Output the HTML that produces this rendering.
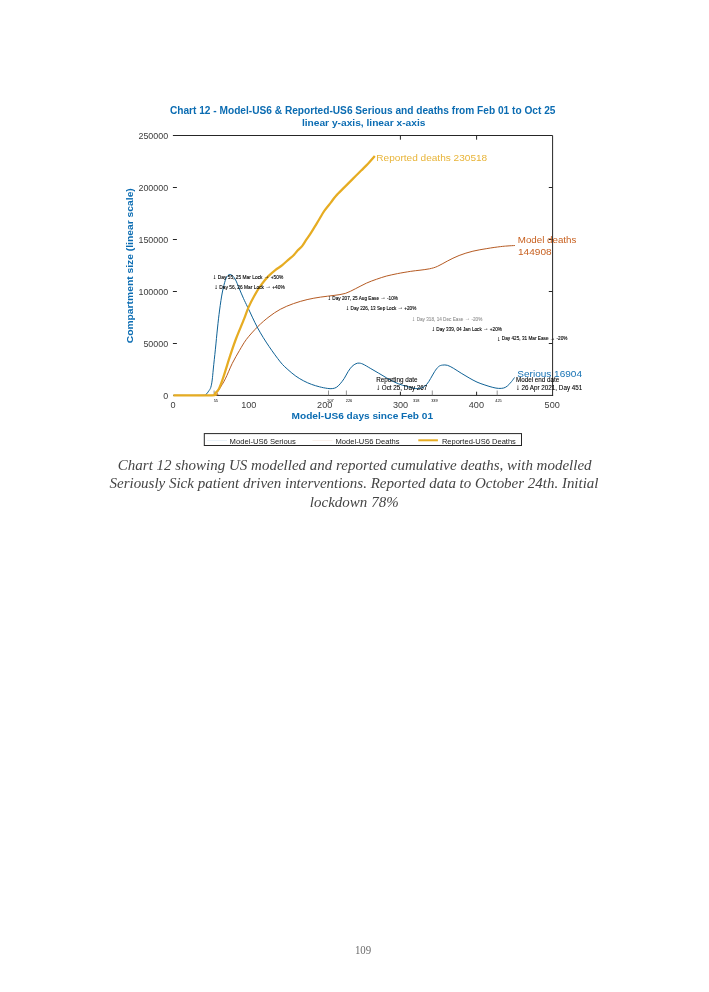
<!DOCTYPE html>
<html lang="en"><head><meta charset="utf-8"><title>Chart 12</title>
<style>
html,body{margin:0;padding:0;background:#fff;}
body{width:709px;height:992px;position:relative;overflow:hidden;}
</style></head><body>
<svg width="709" height="992" viewBox="0 0 709 992" style="position:absolute;left:0;top:0">
<g font-family="'Liberation Sans', Arial, Helvetica, sans-serif">
<text x="169.9" y="113.7" font-weight="bold" font-size="10" textLength="385.6" lengthAdjust="spacingAndGlyphs" fill="#0B6CB2" id="t1">Chart 12 - Model-US6 &amp; Reported-US6 Serious and deaths from Feb 01 to Oct 25</text>
<text x="301.9" y="125.5" font-weight="bold" font-size="9.9" textLength="123.5" lengthAdjust="spacingAndGlyphs" fill="#0B6CB2" id="t2">linear y-axis, linear x-axis</text>
<g stroke="#262626" stroke-width="1" fill="none" shape-rendering="auto">
<path d="M172.9 135.5 H552.6 V395.9"/>
<path d="M213.5 395.4 H553.1"/>
<path d="M172.9 343.5 H176.9"/>
<path d="M548.8 343.5 H552.6"/>
<path d="M172.9 291.5 H176.9"/>
<path d="M548.8 291.5 H552.6"/>
<path d="M172.9 239.5 H176.9"/>
<path d="M548.8 239.5 H552.6"/>
<path d="M172.9 187.5 H176.9"/>
<path d="M548.8 187.5 H552.6"/>
<path d="M400.4 135.5 V139.7"/>
<path d="M400.4 395.5 V391.7"/>
<path d="M476.6 135.5 V139.7"/>
<path d="M476.6 395.5 V391.7"/>
</g>
<g stroke="#666" stroke-width="0.7" fill="none">
<path d="M214.1 395.5 V390.5"/>
<path d="M328.5 395.5 V390.5"/>
<path d="M346.4 395.5 V390.5"/>
<path d="M432.3 395.5 V390.5"/>
<path d="M497.2 395.5 V390.5"/>
</g>
<g font-size="8.9" fill="#3c3c3c">
<text x="168.1" y="399.2" text-anchor="end">0</text>
<text x="168.1" y="347.2" text-anchor="end">50000</text>
<text x="168.1" y="295.2" text-anchor="end">100000</text>
<text x="168.1" y="243.2" text-anchor="end">150000</text>
<text x="168.1" y="191.2" text-anchor="end">200000</text>
<text x="168.1" y="139.2" text-anchor="end">250000</text>
<text x="173.0" y="408.3" font-size="9.1" text-anchor="middle">0</text>
<text x="248.8" y="408.3" font-size="9.1" text-anchor="middle">100</text>
<text x="324.7" y="408.3" font-size="9.1" text-anchor="middle">200</text>
<text x="400.5" y="408.3" font-size="9.1" text-anchor="middle">300</text>
<text x="476.4" y="408.3" font-size="9.1" text-anchor="middle">400</text>
<text x="552.2" y="408.3" font-size="9.1" text-anchor="middle">500</text>
</g>
<g font-size="3.9" fill="#000" text-anchor="middle">
<text x="215.8" y="401.6">55</text>
<text x="330.5" y="401.6">207</text>
<text x="349" y="401.6">226</text>
<text x="416.2" y="401.6">318</text>
<text x="434.4" y="401.6">339</text>
<text x="498.5" y="401.6">425</text>
</g>
<text x="291.6" y="418.9" font-weight="bold" font-size="9.3" textLength="141.5" lengthAdjust="spacingAndGlyphs" fill="#0B6CB2" id="xl">Model-US6 days since Feb 01</text>
<text transform="translate(133.4 343.3) rotate(-90)" font-weight="bold" font-size="9.4" textLength="155.1" lengthAdjust="spacingAndGlyphs" fill="#0B6CB2" id="yl">Compartment size (linear scale)</text>
<path d="M173.4 395.4C180.2 395.4 206.7 395.8 214.0 395.3C221.3 394.8 216.1 393.6 217.0 392.5C217.9 391.4 218.2 391.0 219.6 388.7C221.0 386.4 223.2 383.1 225.3 378.9C227.4 374.7 230.0 368.0 232.3 363.3C234.7 358.6 237.1 354.6 239.4 350.6C241.8 346.6 243.4 343.4 246.4 339.4C249.4 335.4 253.9 330.5 257.7 326.7C261.5 322.9 265.2 319.7 269.0 316.8C272.8 313.9 276.2 311.5 280.3 309.3C284.4 307.1 289.0 305.2 293.5 303.6C298.0 302.0 302.6 300.7 307.1 299.6C311.6 298.5 316.1 297.8 320.6 297.1C325.1 296.4 330.0 296.0 334.1 295.4C338.2 294.8 341.9 294.5 345.4 293.4C348.9 292.3 351.8 290.5 355.3 288.8C358.8 287.1 363.0 284.7 366.5 283.1C370.0 281.5 373.1 280.5 376.4 279.3C379.7 278.1 382.8 277.1 386.3 276.1C389.8 275.2 393.6 274.4 397.6 273.6C401.6 272.8 406.6 272.0 410.3 271.4C414.0 270.8 416.8 270.6 420.0 270.2C423.2 269.8 426.6 269.4 429.5 268.8C432.4 268.2 434.4 267.7 437.4 266.4C440.4 265.1 443.7 262.9 447.3 261.1C450.9 259.3 454.8 257.1 459.1 255.5C463.4 253.8 468.3 252.3 472.9 251.2C477.5 250.0 482.2 249.4 486.8 248.6C491.4 247.8 497.2 247.0 500.6 246.6C504.0 246.2 504.6 246.2 507.0 246.0C509.4 245.8 513.6 245.6 514.9 245.5" fill="none" stroke="#B55A22" stroke-width="1" stroke-linejoin="round"/>
<path d="M173.4 395.4C178.3 395.4 197.5 395.5 203.0 395.3C208.5 395.1 205.3 394.9 206.2 394.2C207.1 393.5 207.8 392.3 208.6 391.2C209.4 390.1 210.2 389.2 210.8 387.3C211.4 385.4 211.8 383.1 212.2 380.0C212.6 376.9 212.8 374.1 213.3 369.0C213.8 363.9 214.7 356.0 215.4 349.2C216.1 342.4 216.8 334.5 217.5 328.0C218.2 321.5 218.8 316.0 219.6 310.0C220.4 304.0 221.4 296.9 222.4 292.0C223.4 287.1 224.4 283.1 225.3 280.4C226.2 277.6 227.1 276.4 228.0 275.5C228.9 274.6 229.7 274.1 230.9 274.7C232.1 275.3 233.7 276.6 235.1 279.0C236.5 281.4 238.0 285.6 239.4 288.9C240.8 292.2 242.2 295.6 243.6 298.7C245.0 301.8 245.5 302.6 247.8 307.5C250.2 312.4 254.2 321.5 257.7 328.0C261.2 334.5 265.2 340.8 269.0 346.4C272.8 352.0 277.2 358.0 280.3 361.9C283.4 365.8 285.3 367.2 287.9 369.6C290.5 372.0 293.2 374.2 295.8 376.1C298.4 378.0 301.1 379.5 303.7 380.9C306.3 382.3 309.0 383.4 311.6 384.4C314.2 385.4 316.9 386.1 319.5 386.8C322.1 387.5 325.3 388.1 327.4 388.4C329.5 388.7 330.8 388.8 332.3 388.6C333.8 388.4 335.0 388.2 336.3 387.4C337.6 386.6 338.9 385.3 340.2 383.8C341.5 382.3 342.9 380.5 344.2 378.5C345.5 376.5 346.8 373.6 348.1 371.6C349.4 369.6 350.8 367.6 352.1 366.3C353.4 365.0 354.9 364.2 356.0 363.7C357.1 363.2 357.9 363.0 359.0 363.1C360.1 363.2 360.9 363.2 362.9 364.1C364.9 365.0 368.2 367.1 370.8 368.6C373.4 370.1 376.1 371.6 378.7 373.2C381.3 374.8 384.0 376.4 386.6 377.9C389.2 379.4 391.9 380.9 394.5 382.1C397.1 383.3 399.8 384.3 402.4 385.2C405.0 386.1 408.1 386.8 410.3 387.4C412.5 388.0 413.9 388.5 415.8 388.6C417.7 388.7 419.9 388.7 421.7 388.0C423.5 387.3 425.2 386.0 426.7 384.4C428.2 382.8 429.3 380.6 430.6 378.5C431.9 376.4 433.3 373.6 434.6 371.6C435.9 369.6 437.2 367.8 438.5 366.7C439.8 365.6 441.0 365.3 442.5 365.1C444.0 364.9 445.6 364.8 447.4 365.3C449.2 365.8 451.0 366.9 453.3 368.2C455.6 369.5 458.6 371.6 461.2 373.2C463.8 374.8 466.5 376.4 469.1 377.9C471.7 379.4 474.4 380.9 477.0 382.1C479.6 383.3 482.3 384.1 484.9 385.0C487.5 385.9 490.5 386.8 492.8 387.4C495.1 388.0 496.9 388.3 498.7 388.4C500.5 388.5 502.2 388.4 503.7 388.0C505.2 387.6 506.3 386.9 507.6 385.8C508.9 384.7 510.5 382.9 511.6 381.5C512.8 380.1 514.0 378.2 514.5 377.5" fill="none" stroke="#0F6296" stroke-width="1" stroke-linejoin="round"/>
<path d="M173.4 395.3C179.8 395.3 205.0 395.7 212.0 395.3C219.0 394.9 214.1 394.1 215.3 393.0C216.5 391.9 217.7 391.3 219.0 388.7C220.3 386.1 221.4 383.0 223.3 377.4C225.2 371.8 228.2 361.5 230.4 354.9C232.6 348.3 234.0 344.0 236.3 338.0C238.6 332.0 242.2 323.8 244.2 318.7C246.2 313.6 246.8 311.1 248.5 307.4C250.2 303.6 252.0 299.9 254.1 296.2C256.2 292.4 258.8 288.2 261.2 284.9C263.6 281.6 265.8 278.9 268.2 276.4C270.6 273.9 272.9 272.0 275.3 270.1C277.7 268.2 280.0 267.0 282.3 265.1C284.6 263.2 287.5 260.4 289.4 258.8C291.3 257.2 292.2 256.7 293.6 255.3C295.0 253.9 296.4 251.8 297.8 250.3C299.2 248.8 300.7 247.9 302.1 246.1C303.5 244.3 304.9 241.8 306.3 239.7C307.7 237.6 309.1 235.8 310.5 233.6C311.9 231.4 313.3 229.1 314.8 226.6C316.3 224.1 318.1 221.2 319.7 218.5C321.3 215.8 322.6 213.2 324.5 210.6C326.4 207.9 328.9 205.0 330.8 202.6C332.7 200.2 333.6 198.4 335.9 195.9C338.1 193.4 341.5 190.2 344.3 187.4C347.1 184.6 350.0 181.7 352.8 178.9C355.6 176.1 358.7 173.0 361.2 170.5C363.7 168.0 365.7 166.1 368.0 163.7C370.3 161.3 373.7 157.4 374.8 156.1" fill="none" stroke="#E6AC22" stroke-width="2.25" stroke-linejoin="round"/>
<text x="376.3" y="160.9" font-size="9.6" textLength="110.9" lengthAdjust="spacingAndGlyphs" fill="#E8B438" id="lr">Reported deaths 230518</text>
<text x="517.8" y="242.8" font-size="9" textLength="58.6" lengthAdjust="spacingAndGlyphs" fill="#C8601F" id="lm">Model deaths</text>
<text x="518" y="254.9" font-size="9" textLength="33.6" lengthAdjust="spacingAndGlyphs" fill="#C8601F">144908</text>
<text x="517.3" y="376.6" font-size="9.8" textLength="64.7" lengthAdjust="spacingAndGlyphs" fill="#1672B4" id="ls">Serious 16904</text>
<g font-size="4.5" fill="#000" stroke="#000" stroke-width="0.1">
<text x="212.8" y="278.5" opacity="1" textLength="70.5" lengthAdjust="spacingAndGlyphs"><tspan font-size="6.8" dy="0.2">↓</tspan><tspan dy="-0.2"> Day 55, 25 Mar Lock </tspan><tspan dy="-0.9" font-size="5.2">→</tspan><tspan dy="0.9"> +50%</tspan></text>
<text x="214.3" y="289.0" opacity="1" textLength="70.5" lengthAdjust="spacingAndGlyphs"><tspan font-size="6.8" dy="0.2">↓</tspan><tspan dy="-0.2"> Day 56, 26 Mar Lock </tspan><tspan dy="-0.9" font-size="5.2">→</tspan><tspan dy="0.9"> +40%</tspan></text>
<text x="327.5" y="299.9" opacity="1" textLength="70.5" lengthAdjust="spacingAndGlyphs"><tspan font-size="6.8" dy="0.2">↓</tspan><tspan dy="-0.2"> Day 207, 25 Aug Ease </tspan><tspan dy="-0.9" font-size="5.2">→</tspan><tspan dy="0.9"> -10%</tspan></text>
<text x="345.8" y="309.5" opacity="1" textLength="70.5" lengthAdjust="spacingAndGlyphs"><tspan font-size="6.8" dy="0.2">↓</tspan><tspan dy="-0.2"> Day 226, 13 Sep Lock </tspan><tspan dy="-0.9" font-size="5.2">→</tspan><tspan dy="0.9"> +20%</tspan></text>
<text x="411.8" y="320.6" opacity="0.45" textLength="70.5" lengthAdjust="spacingAndGlyphs"><tspan font-size="6.8" dy="0.2">↓</tspan><tspan dy="-0.2"> Day 318, 14 Dec Ease </tspan><tspan dy="-0.9" font-size="5.2">→</tspan><tspan dy="0.9"> -20%</tspan></text>
<text x="431.5" y="330.7" opacity="1" textLength="70.5" lengthAdjust="spacingAndGlyphs"><tspan font-size="6.8" dy="0.2">↓</tspan><tspan dy="-0.2"> Day 339, 04 Jan Lock </tspan><tspan dy="-0.9" font-size="5.2">→</tspan><tspan dy="0.9"> +20%</tspan></text>
<text x="497.0" y="340.4" opacity="1" textLength="70.5" lengthAdjust="spacingAndGlyphs"><tspan font-size="6.8" dy="0.2">↓</tspan><tspan dy="-0.2"> Day 425, 31 Mar Ease </tspan><tspan dy="-0.9" font-size="5.2">→</tspan><tspan dy="0.9"> -20%</tspan></text>
</g>
<g font-size="6.3" fill="#000" stroke="#000" stroke-width="0.08">
<text x="376.2" y="381.7">Reporting date</text>
<text x="376.0" y="389.8" textLength="51.4" lengthAdjust="spacingAndGlyphs"><tspan font-size="8">↓</tspan> Oct 25, Day 267</text>
<text x="515.9" y="381.8">Model end date</text>
<text x="515.7" y="389.8" textLength="66.6" lengthAdjust="spacingAndGlyphs"><tspan font-size="8">↓</tspan> 26 Apr 2021, Day 451</text>
</g>
<rect x="204.3" y="433.6" width="317.2" height="11.9" fill="#fff" stroke="#262626" stroke-width="1"/>
<path d="M207 440.3 H227" stroke="#0B6CB2" stroke-width="0.5" opacity="0.22"/>
<path d="M312.5 440.3 H332.5" stroke="#C8601F" stroke-width="0.5" opacity="0.22"/>
<path d="M418.3 440.3 H437.9" stroke="#E6AC22" stroke-width="2"/>
<g font-size="7.4" fill="#222" lengthAdjust="spacingAndGlyphs">
<text x="229.6" y="443.5" textLength="66.3" lengthAdjust="spacingAndGlyphs" id="lg1">Model-US6 Serious</text>
<text x="335.5" y="443.5" textLength="64.1" lengthAdjust="spacingAndGlyphs" id="lg2">Model-US6 Deaths</text>
<text x="441.9" y="443.5" textLength="74" lengthAdjust="spacingAndGlyphs" id="lg3">Reported-US6 Deaths</text>
</g>
</g>
<g font-family="'Liberation Serif', 'Times New Roman', serif" font-style="italic" font-size="15" fill="#444">
<text x="354.7" y="469.5" text-anchor="middle" textLength="473.8" lengthAdjust="spacing" id="c1">Chart 12 showing US modelled and reported cumulative deaths, with modelled</text>
<text x="354" y="488.2" text-anchor="middle" textLength="489" lengthAdjust="spacing" id="c2">Seriously Sick patient driven interventions. Reported data to October 24th. Initial</text>
<text x="354.2" y="506.7" text-anchor="middle" textLength="88.9" lengthAdjust="spacing" id="c3">lockdown 78%</text>
</g>
<text x="354.9" y="954.2" textLength="16.3" lengthAdjust="spacingAndGlyphs" font-family="'Liberation Serif', 'Times New Roman', serif" font-size="12.2" fill="#6c6c6c" id="pn">109</text>
</svg>
</body></html>
